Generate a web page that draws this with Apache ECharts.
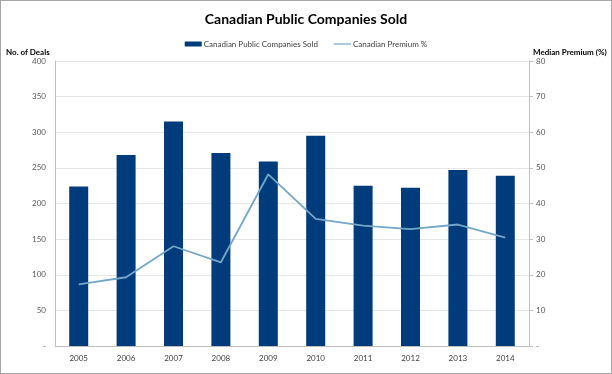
<!DOCTYPE html>
<html><head><meta charset="utf-8">
<script src="https://cdn.jsdelivr.net/npm/echarts@6/dist/echarts.min.js"></script>
<style>html,body{margin:0;padding:0;background:#fff}#c{width:612px;height:374px;box-sizing:border-box;border:1px solid #a6a6a6}</style>
</head><body><div id="c"></div>
<script>
var years = ['2005','2006','2007','2008','2009','2010','2011','2012','2013','2014'];
var companiesSold = [224, 268, 315, 271, 259, 295, 225, 222, 247, 239];
var premiumPct = [17.3, 19.3, 28.0, 23.5, 48.2, 35.7, 33.8, 32.8, 34.1, 30.4];
var chart = echarts.init(document.getElementById('c'));
var font = 'Lato, "Open Sans", sans-serif';
chart.setOption({
  animation: false,
  textStyle: {fontFamily: font},
  title: {text: 'Canadian Public Companies Sold', left: 'center', top: 6,
    textStyle: {fontSize: 14, fontWeight: 'bold', color: '#000', fontFamily: font}},
  legend: {top: 34, left: 'center', itemGap: 16, itemWidth: 17, itemHeight: 5,
    textStyle: {fontSize: 8, color: '#404040', padding: [0,0,0,-3]},
    data: [{name: 'Canadian Public Companies Sold', icon: 'rect', itemStyle: {color: '#003b7b'}},
           {name: 'Canadian Premium %', icon: 'path://M0,0 L20,0 L20,1.4 L0,1.4 Z', itemStyle: {color: '#73a7c9'}}]},
  grid: {left: 54, right: 82, top: 60, bottom: 27},
  xAxis: {type: 'category', data: years,
    axisLine: {lineStyle: {color: '#bfbfbf'}}, axisTick: {show: false},
    axisLabel: {fontSize: 8, color: '#404040', margin: 8}},
  yAxis: [
    {type: 'value', min: 0, max: 400, interval: 50,
     name: 'No. of Deals', nameLocation: 'end', nameGap: 5,
     nameTextStyle: {fontSize: 8, fontWeight: 'bold', color: '#000', align: 'left', padding: [0,0,0,-49]},
     axisLine: {show: true, lineStyle: {color: '#bfbfbf'}}, axisTick: {show: false},
     axisLabel: {fontSize: 8, color: '#595959', margin: 9, formatter: function(v){return v===0?'-':v;}},
     splitLine: {lineStyle: {color: '#e6e6e6'}}},
    {type: 'value', min: 0, max: 80, interval: 10,
     name: 'Median Premium (%)', nameLocation: 'end', nameGap: 5,
     nameTextStyle: {fontSize: 8, fontWeight: 'bold', color: '#000', align: 'left', padding: [0,0,0,4]},
     axisLine: {show: true, lineStyle: {color: '#bfbfbf'}},
     axisTick: {show: true, length: 4, lineStyle: {color: '#bfbfbf'}},
     axisLabel: {fontSize: 8, color: '#595959', margin: 7, formatter: function(v){return v===0?'-':v;}},
     splitLine: {show: false}}
  ],
  series: [
    {name: 'Canadian Public Companies Sold', type: 'bar', data: companiesSold,
     barWidth: 19, itemStyle: {color: '#003b7b'}},
    {name: 'Canadian Premium %', type: 'line', yAxisIndex: 1, data: premiumPct,
     symbol: 'none', lineStyle: {color: '#73a7c9', width: 1.8}, itemStyle: {color: '#73a7c9'}}
  ]
});
</script></body></html>
